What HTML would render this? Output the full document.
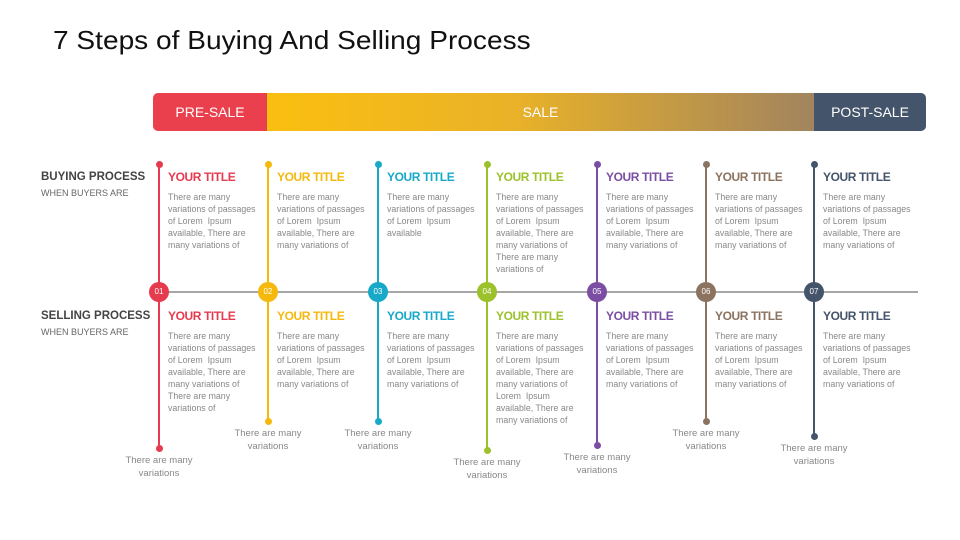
<!DOCTYPE html>
<html><head><meta charset="utf-8"><style>
body{margin:0;width:960px;height:540px;background:#fff;position:relative;overflow:hidden;font-family:"Liberation Sans",sans-serif}
.a{position:absolute}
.h{font-size:26px;color:#111;left:53px;top:25px;transform:scaleX(1.08);transform-origin:left}
.bar{top:93px;height:38px;color:#fff;font-size:14px;line-height:38px;text-align:center}
.lab{left:41px;font-size:11.5px;font-weight:bold;color:#444}
.sub{left:41px;font-size:9px;color:#666}
.t{font-size:12px;font-weight:bold;white-space:nowrap;letter-spacing:-0.4px}
.b{font-size:8.8px;line-height:12px;color:#888;white-space:nowrap}
.f{font-size:9.5px;line-height:12.5px;color:#888;text-align:center;width:100px;white-space:nowrap}
.c{width:20px;height:20px;border-radius:50%;color:#fff;font-size:8px;line-height:20px;text-align:center;top:282px}
.v{width:2px}
.d{width:7px;height:7px;border-radius:50%}
</style></head><body>
<div class="a h">7 Steps of Buying And Selling Process</div>
<div class="a bar" style="left:153px;width:114px;background:#ea3f4d;border-radius:5px 0 0 5px">PRE-SALE</div>
<div class="a bar" style="left:267px;width:547px;background:linear-gradient(90deg,#fbbf10,#e9b228 45%,#a2845e)">SALE</div>
<div class="a bar" style="left:814px;width:112px;background:#44546a;border-radius:0 5px 5px 0">POST-SALE</div>
<div class="a lab" style="top:171px">BUYING PROCESS</div>
<div class="a sub" style="top:188px">WHEN BUYERS ARE</div>
<div class="a lab" style="top:310px">SELLING PROCESS</div>
<div class="a sub" style="top:327px">WHEN BUYERS ARE</div>
<div class="a" style="left:150px;top:291px;width:768px;height:2px;background:#a6a6a6"></div>
<div id="cols"></div>
<script>
var X=[159,268,378,487,597,706,814],C=['#e63a4e','#f5b90e','#18a8c8','#9bc12b','#7b4ea3','#8c735f','#44546a'],E=[448,421,421,450,445,421,436];
var A="There are many<br>variations of passages<br>of Lorem &nbsp;Ipsum<br>";
var F=A+"available, There are<br>many variations of";
var TT=[F,F,A+"available",F+"<br>There are many<br>variations of",F,F,F];
var BB=[F+"<br>There are many<br>variations of",F,F,F+"<br>Lorem &nbsp;Ipsum<br>available, There are<br>many variations of",F,F,F];
var h='';
for(var i=0;i<7;i++){var x=X[i],c=C[i];
h+='<div class="a v" style="left:'+(x-1)+'px;top:164px;height:'+(E[i]-164)+'px;background:'+c+'"></div>';
h+='<div class="a d" style="left:'+(x-3.5)+'px;top:160.5px;background:'+c+'"></div>';
h+='<div class="a d" style="left:'+(x-3.5)+'px;top:'+(E[i]-3.5)+'px;background:'+c+'"></div>';
h+='<div class="a c" style="left:'+(x-10)+'px;background:'+c+'">0'+(i+1)+'</div>';
h+='<div class="a t" style="left:'+(x+9)+'px;top:170px;color:'+c+'">YOUR TITLE</div>';
h+='<div class="a b" style="left:'+(x+9)+'px;top:191px">'+TT[i]+'</div>';
h+='<div class="a t" style="left:'+(x+9)+'px;top:309px;color:'+c+'">YOUR TITLE</div>';
h+='<div class="a b" style="left:'+(x+9)+'px;top:330px">'+BB[i]+'</div>';
h+='<div class="a f" style="left:'+(x-50)+'px;top:'+(E[i]+7)+'px">There are many<br>variations</div>';}
document.getElementById('cols').innerHTML=h;
</script>
</body></html>
